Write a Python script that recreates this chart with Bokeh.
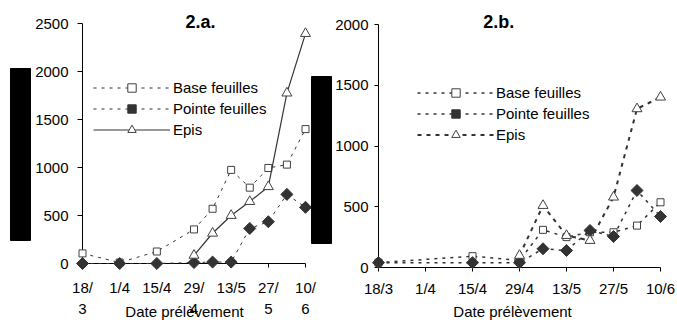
import math
from datetime import date

from bokeh.plotting import figure
from bokeh.layouts import row, column
from bokeh.models import Range1d, FixedTicker, Legend, LegendItem
from bokeh.core.properties import value
from bokeh.embed import file_html
from bokeh.resources import INLINE

# ---------------- data ----------------
# Panel 2.a
dates_a = ["18/3", "1/4", "15/4", "29/4", "6/5", "13/5", "20/5", "27/5", "3/6", "10/6"]
base_a = [105, 10, 125, 355, 570, 975, 790, 995, 1030, 1400]
pointe_a = [0, 0, 0, 10, 15, 15, 365, 435, 720, 585]
epis_dates_a = ["29/4", "6/5", "13/5", "20/5", "27/5", "3/6", "10/6"]
epis_a = [85, 315, 500, 645, 800, 1775, 2395]

# Panel 2.b
dates_b = ["18/3", "15/4", "29/4", "6/5", "13/5", "20/5", "27/5", "3/6", "10/6"]
base_b = [40, 93, 58, 310, 250, 290, 290, 345, 537]
pointe_b = [40, 40, 40, 154, 140, 305, 255, 634, 420]
epis_dates_b = ["29/4", "6/5", "13/5", "20/5", "27/5", "3/6", "10/6"]
epis_b = [99, 510, 263, 222, 579, 1306, 1402]

tick_dates = ["18/3", "1/4", "15/4", "29/4", "13/5", "27/5", "10/6"]
# panel a wraps its tick labels over two lines
tick_line1_a = ["18/", "1/4", "15/4", "29/", "13/5", "27/", "10/"]
tick_line2_a = ["3", "", "", "4", "", "5", "6"]
tick_labels_b = ["18/3", "1/4", "15/4", "29/4", "13/5", "27/5", "10/6"]

series_names = ["Base feuilles", "Pointe feuilles", "Epis"]
titles = ["2.a.", "2.b."]
x_title = "Date prélèvement"

FONT = "Liberation Sans"
GREY = "#333333"
H = 320


def day(s):
    d, m = map(int, s.split("/"))
    return (date(2024, m, d) - date(2024, 3, 18)).days


def make_fig(width, borders, ymax, ystep, tick_labels, x_standoff, y_standoff, y_tick_out):
    left, right, top, bottom = borders
    p = figure(width=width, height=H, output_backend="svg", toolbar_location=None,
               title=None,
               x_range=Range1d(day(tick_dates[0]), day(tick_dates[-1])),
               y_range=Range1d(0, ymax),
               min_border_left=left, min_border_right=right,
               min_border_top=top, min_border_bottom=bottom)
    # pixel-like ranges (canvas coordinates, y downward) for decorations
    p.extra_x_ranges = {"cx": Range1d(left, width - right)}
    p.extra_y_ranges = {"cy": Range1d(H - bottom, top)}
    p.xgrid.visible = False
    p.ygrid.visible = False
    p.outline_line_color = None
    p.background_fill_color = "white"
    p.border_fill_color = "white"

    ticks = [day(s) for s in tick_dates]
    xa = p.xaxis[0]
    xa.ticker = FixedTicker(ticks=ticks)
    xa.major_label_overrides = {t: l for t, l in zip(ticks, tick_labels)}
    xa.minor_tick_line_color = None
    xa.major_tick_in = 0
    xa.major_tick_out = 4
    xa.axis_line_color = "black"
    xa.major_tick_line_color = "black"
    xa.major_label_text_font = FONT
    xa.major_label_text_font_size = "15px"
    xa.major_label_text_color = "black"
    xa.major_label_standoff = x_standoff

    ya = p.yaxis[0]
    ya.ticker = FixedTicker(ticks=list(range(0, ymax + 1, ystep)))
    ya.minor_tick_line_color = None
    ya.major_tick_in = 0
    ya.major_tick_out = y_tick_out
    ya.axis_line_color = "black"
    ya.major_tick_line_color = "black"
    ya.major_label_text_font = FONT
    ya.major_label_text_font_size = "15px"
    ya.major_label_text_color = "black"
    ya.major_label_standoff = y_standoff
    return p


def add_series(p, dates, vals, kind, dash, lw):
    xs = [day(s) for s in dates]
    lr = p.line(xs, vals, line_color=GREY, line_width=lw, line_dash=dash, level="overlay")
    if kind == "square":
        sr = p.scatter(xs, vals, marker="square", size=7, fill_color="white",
                       line_color="#404040", line_width=1, level="overlay")
    elif kind == "diamond":
        sr = p.scatter(xs, vals, marker="square", angle=math.pi / 4, size=8.5,
                       fill_color=GREY, line_color=GREY, level="overlay")
    else:
        sr = p.scatter(xs, vals, marker="triangle", size=10, fill_color="white",
                       line_color="#404040", line_width=1, level="overlay")
    return [lr, sr]


def add_legend(p, items, loc, standoff):
    lg = Legend(items=[LegendItem(label=n, renderers=r) for n, r in items],
                location=loc, orientation="vertical",
                border_line_color=None, background_fill_alpha=0,
                padding=0, margin=0, spacing=0,
                glyph_width=77, glyph_height=21, label_height=21,
                label_standoff=standoff, label_text_font=FONT,
                label_text_font_size="15px", label_text_color="black")
    p.add_layout(lg)


def add_text(p, xs, ys, texts, size, bold=False, baseline="middle", x_range="cx"):
    p.text(x=xs, y=ys, text=texts, x_range_name=x_range, y_range_name="cy",
           text_font=value(FONT), text_font_size=value(size),
           text_font_style=value("bold" if bold else "normal"),
           text_align="center", text_baseline=baseline, text_color="black",
           level="overlay")


def add_black_box(p, l, r, t, b):
    p.quad(left=[l], right=[r], top=[t], bottom=[b], x_range_name="cx", y_range_name="cy",
           fill_color="black", line_color="black", level="overlay")


# ---------------- panel a (canvas x 0..332) ----------------
pa = make_fig(332, (82, 27, 23, 57), 2500, 500, tick_line1_a, 11, 9, 5)
ra1 = add_series(pa, dates_a, base_a, "square", "3 5", 1)
ra2 = add_series(pa, dates_a, pointe_a, "diamond", "3 5", 1)
ra3 = add_series(pa, epis_dates_a, epis_a, "triangle", "solid", 1.2)
add_legend(pa, list(zip(series_names, [ra1, ra2, ra3])), (11, 123), 3)
add_text(pa, [day(s) for s in tick_dates], [308] * len(tick_dates), tick_line2_a, "15px",
         x_range="default")
add_text(pa, [200], [21.5], [titles[0]], "18px", bold=True)
add_text(pa, [184], [311], [x_title], "15px")
add_black_box(pa, 10, 30, 68, 240)
add_black_box(pa, 311, 331, 76, 243)

# ---------------- panel b (canvas x 332..677) ----------------
pb = make_fig(345, (44, 17, 24, 53), 2000, 500, tick_labels_b, 8, 6, 4)
rb1 = add_series(pb, dates_b, base_b, "square", "3 5", 1.5)
rb2 = add_series(pb, dates_b, pointe_b, "diamond", "3 5", 1.5)
rb3 = add_series(pb, epis_dates_b, epis_b, "triangle", "4 5", 2)
add_legend(pb, list(zip(series_names, [rb1, rb2, rb3])), (39, 122), 2)
add_text(pb, [165], [21], [titles[1]], "18px", bold=True)
add_text(pb, [179], [311], [x_title], "15px")

# each panel in its own column so that the row does not align their frames
layout = row(column(pa), column(pb))
open("out.html", "w").write(file_html(layout, INLINE))
